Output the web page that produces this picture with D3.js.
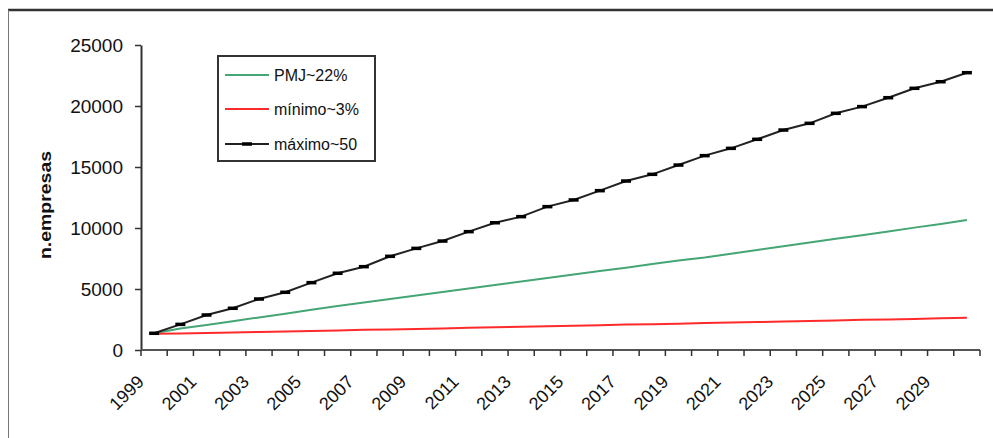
<!DOCTYPE html>
<html><head><meta charset="utf-8">
<script src="https://cdn.jsdelivr.net/npm/d3@7"></script>
<style>
html,body{margin:0;padding:0;background:#fff;}
svg{display:block;font-family:"Liberation Sans",Arial,sans-serif;}
</style></head>
<body>
<svg id="c" width="993" height="438"></svg>
<script>
const years = [1999,2000,2001,2002,2003,2004,2005,2006,2007,2008,2009,2010,2011,2012,2013,2014,2015,2016,2017,2018,2019,2020,2021,2022,2023,2024,2025,2026,2027,2028,2029,2030];
const pmj = [1370,1760,2050,2360,2670,2980,3290,3600,3900,4180,4460,4750,5040,5330,5610,5900,6190,6470,6750,7040,7330,7580,7890,8200,8500,8810,9110,9410,9720,10030,10330,10650];
const minimo = [1330,1360,1400,1440,1480,1520,1560,1600,1650,1690,1730,1770,1820,1860,1900,1950,1990,2030,2080,2120,2160,2210,2250,2290,2340,2380,2420,2470,2510,2550,2600,2640];
const maximo = [1370,2100,2870,3420,4180,4730,5520,6290,6830,7680,8330,8930,9700,10430,10930,11750,12300,13060,13850,14400,15160,15930,16530,17270,18030,18580,19400,19950,20680,21450,21990,22730];
const yTicks = [0,5000,10000,15000,20000,25000];
const seriesNames = ["PMJ~22%","mínimo~3%","máximo~50"];
const yLabel = "n.empresas";

const svg = d3.select("#c");
// outer frame
svg.append("line").attr("x1",8).attr("x2",993).attr("y1",10).attr("y2",10).attr("stroke","#333").attr("stroke-width",2.5);
svg.append("line").attr("x1",8.5).attr("x2",8.5).attr("y1",10).attr("y2",438).attr("stroke","#777").attr("stroke-width",1);

const x = d3.scaleBand().domain(years).range([141,980]).paddingInner(0).paddingOuter(0);
const y = d3.scaleLinear().domain([0,25000]).range([350,45]);
const cx = d => x(d) + x.bandwidth()/2;

// y axis
const ya = svg.append("g").attr("transform","translate(141,0)")
  .call(d3.axisLeft(y).tickValues(yTicks).tickSize(6).tickSizeOuter(0).tickPadding(12).tickFormat(d3.format("d")));
ya.select(".domain").attr("stroke","#333").attr("stroke-width",2);
ya.selectAll(".tick line").attr("stroke","#333").attr("stroke-width",1.5);
ya.selectAll(".tick text").attr("font-size",19).attr("fill","#111").attr("font-family","Liberation Sans, Arial, sans-serif");

// x axis
const xa = svg.append("g");
xa.append("line").attr("x1",141).attr("x2",980).attr("y1",350).attr("y2",350).attr("stroke","#555").attr("stroke-width",2);
const bounds = years.map(d => x(d)).concat([x(years[years.length-1]) + x.bandwidth()]);
xa.selectAll("line.tk").data(bounds).join("line").attr("class","tk")
  .attr("x1",d=>d).attr("x2",d=>d).attr("y1",350).attr("y2",356).attr("stroke","#333").attr("stroke-width",1.5);
xa.selectAll("text.lb").data(years.filter((d,i)=>i%2===0)).join("text").attr("class","lb")
  .attr("transform",d=>`translate(${cx(d)-9},383) rotate(-45)`)
  .attr("text-anchor","end").attr("font-size",18).attr("fill","#111").text(d=>d);

// y label
svg.append("text").attr("transform","translate(51,205) rotate(-90)").attr("text-anchor","middle")
  .attr("font-size",17).attr("font-weight","bold").attr("fill","#111")
  .attr("textLength",108).attr("lengthAdjust","spacingAndGlyphs").text(yLabel);

// lines
const line = d3.line().x((d,i)=>cx(years[i])).y(d=>y(d));
svg.append("path").datum(pmj).attr("d",line).attr("fill","none").attr("stroke","#45a675").attr("stroke-width",2);
svg.append("path").datum(minimo).attr("d",line).attr("fill","none").attr("stroke","#ff2b2b").attr("stroke-width",2);
svg.append("path").datum(maximo).attr("d",line).attr("fill","none").attr("stroke","#222").attr("stroke-width",2);
svg.selectAll("rect.mk").data(maximo).join("rect").attr("class","mk")
  .attr("x",(d,i)=>cx(years[i])-5).attr("y",d=>y(d)-1.75).attr("width",10).attr("height",3.5).attr("fill","#000");

// legend
const lg = svg.append("g");
lg.append("rect").attr("x",218).attr("y",56).attr("width",157).attr("height",105).attr("fill","#fff").attr("stroke","#333").attr("stroke-width",2);
const lcol = ["#45a675","#ff2b2b","#222"];
const ly = [75,109,144];
seriesNames.forEach((n,i)=>{
  lg.append("line").attr("x1",225).attr("x2",269).attr("y1",ly[i]).attr("y2",ly[i]).attr("stroke",lcol[i]).attr("stroke-width",2);
  if(i===2) lg.append("rect").attr("x",242).attr("y",ly[i]-1.75).attr("width",10).attr("height",3.5).attr("fill","#000");
  lg.append("text").attr("x",274).attr("y",ly[i]).attr("dy","0.35em").attr("font-size",16).attr("fill","#111").text(n);
});
</script>
</body></html>
